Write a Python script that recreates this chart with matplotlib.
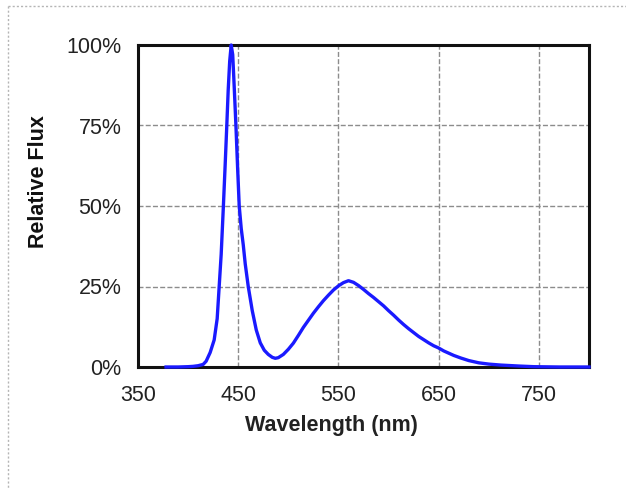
import matplotlib.pyplot as plt
from matplotlib.lines import Line2D

# emission spectrum of a white LED, relative flux in percent
wavelength = [378, 390, 400, 405, 410, 415, 418, 422, 426, 429, 431, 433,
              435.2, 437, 438.6, 440, 441.5, 443, 444.5, 446, 447.7, 449.5,
              451, 453, 455, 457, 460, 464, 468, 472, 476, 480, 484, 487,
              490, 495, 500, 505, 510, 515, 520, 525, 530, 535, 540, 545,
              550, 555, 560, 565, 570, 575, 580, 585, 590, 595, 600, 605,
              610, 615, 620, 625, 630, 635, 640, 645, 650, 655, 660, 665,
              672, 680, 690, 700, 712, 730, 745, 770, 800]
flux = [0.0, 0.0, 0.1, 0.2, 0.4, 0.8, 1.8, 4.5, 8.4, 15, 25, 35,
        50, 63, 75, 86, 95, 100, 97, 87, 75, 61,
        50, 43, 38, 32, 25, 17.5, 11.5, 7.5, 5.2, 3.9, 3.0, 2.7,
        2.9, 3.9, 5.5, 7.4, 9.8, 12.3, 14.5, 16.7, 18.7, 20.6, 22.3, 23.9,
        25.2, 26.2, 26.8, 26.3, 25.3, 24.1, 22.8, 21.6, 20.3, 19.0, 17.5, 16.1,
        14.6, 13.2, 11.9, 10.7, 9.5, 8.5, 7.5, 6.6, 5.9, 5.0, 4.3, 3.6,
        2.8, 2.0, 1.3, 0.9, 0.6, 0.3, 0.1, 0.0, 0.0]

x_ticks = [350, 450, 550, 650, 750]
y_ticks = [0, 25, 50, 75, 100]
y_labels = ["0%", "25%", "50%", "75%", "100%"]

plt.rcParams["font.family"] = ["Liberation Sans", "DejaVu Sans"]

W, H = 626, 490
fig = plt.figure(figsize=(W / 100, H / 100), dpi=100)
ax = fig.add_axes([138 / W, 1 - 367 / H, (589 - 138) / W, (367 - 45) / H])

ax.plot(wavelength, flux, color="#1a1aff", lw=2.4, solid_joinstyle="round",
        zorder=5, clip_on=False)

ax.set_xlim(350, 800)
ax.set_ylim(0, 100)
ax.set_xticks(x_ticks)
ax.set_yticks(y_ticks)
ax.set_yticklabels(y_labels)
ax.tick_params(length=0, labelsize=15.5, labelcolor="#222222")
ax.tick_params(axis="y", pad=12)
ax.tick_params(axis="x", pad=13)

ax.grid(True, color="#8c8c8c", lw=1.0, linestyle=(0, (3.6, 1.6)))
ax.set_axisbelow(True)
for s in ax.spines.values():
    s.set_linewidth(2.2)
    s.set_color("#111111")
    s.set_zorder(4)

fig.text(331 / W, 1 - 425 / H, "Wavelength (nm)", ha="center", va="center",
         fontsize=15.5, fontweight="bold", color="#222222")
fig.text(38 / W, 1 - 182 / H, "Relative Flux", ha="center", va="center",
         rotation=90, fontsize=15.5, fontweight="bold", color="#111111")

# light dotted frame around the chart area
frame = dict(color="#b5b5b5", lw=1.0, linestyle=(0, (1.5, 1.5)),
             transform=fig.transFigure)
fig.add_artist(Line2D([8 / W, 1], [1 - 6 / H, 1 - 6 / H], **frame))
fig.add_artist(Line2D([8 / W, 8 / W], [1 - 6 / H, 1 - 488 / H], **frame))

fig.savefig("out.png", dpi=100)
